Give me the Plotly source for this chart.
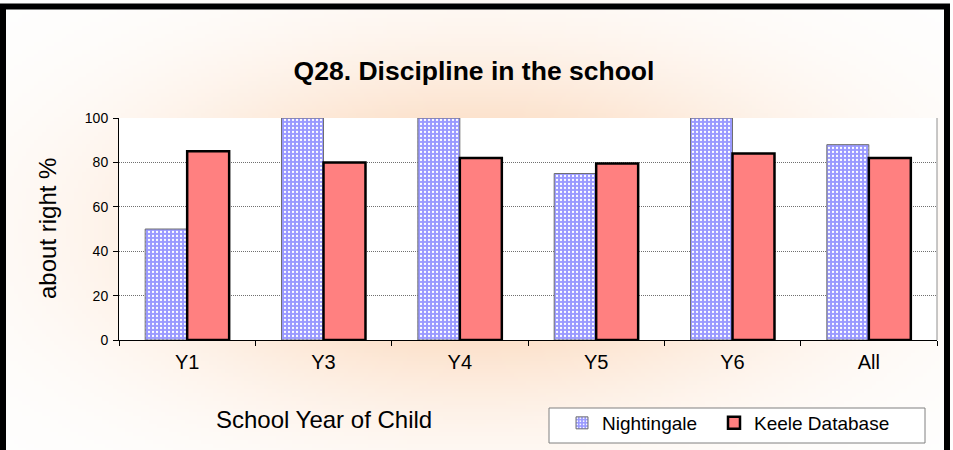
import base64, struct, zlib
import numpy as np
import plotly.graph_objects as go

# ---------------- data ----------------
categories = ["Y1", "Y3", "Y4", "Y5", "Y6", "All"]
nightingale = [50, 100, 100, 75, 100, 88]
keele = [85, 80, 82, 79.5, 84, 82]
y_ticks = [0, 20, 40, 60, 80, 100]

W, H = 953, 450
ML, MR, MT, MB = 119, 16, 118, 110
PW, PH = W - ML - MR, H - MT - MB


def px2x(px):
    return (px - ML) / PW


def px2y(py):
    return (H - MB - py) / PH


# ---------------- radial glow background (PNG data URI) ----------------
def glow_uri(gw=240, gh=114):
    xs = (np.arange(gw) + 0.5) * W / gw
    ys = (np.arange(gh) + 0.5) * H / gh
    X, Y = np.meshgrid(xs, ys)
    cx, cy, rx, ry = 476, 232, 470, 235
    r2 = ((X - cx) / rx) ** 2 + ((Y - cy) / ry) ** 2
    f = np.exp(-2.2 * r2)
    peach = np.array([251, 208, 172], dtype=float)
    img = 255 - f[..., None] * (255 - peach)[None, None, :]
    img = np.clip(img, 0, 255).astype(np.uint8)
    raw = b"".join(b"\x00" + img[i].tobytes() for i in range(gh))

    def chunk(t, d):
        c = struct.pack(">I", len(d)) + t + d
        return c + struct.pack(">I", zlib.crc32(t + d) & 0xFFFFFFFF)

    png = b"\x89PNG\r\n\x1a\n"
    png += chunk(b"IHDR", struct.pack(">IIBBBBB", gw, gh, 8, 2, 0, 0, 0))
    png += chunk(b"IDAT", zlib.compress(raw, 9))
    png += chunk(b"IEND", b"")
    return "data:image/png;base64," + base64.b64encode(png).decode()


FONT = "Liberation Sans, Arial, sans-serif"

fig = go.Figure()
fig.add_trace(go.Bar(
    x=categories, y=nightingale, name="Nightingale",
    marker=dict(color="#9999FF",
                line=dict(color="#707070", width=1),
                pattern=dict(shape=".", fgcolor="white", bgcolor="#9999FF",
                             size=4, solidity=0.25, fillmode="replace")),
    legendwidth=107,
))
fig.add_trace(go.Bar(
    x=categories, y=keele, name="Keele Database",
    marker=dict(color="#FF8080", line=dict(color="black", width=2.5)),
    legendwidth=150,
))

fig.update_layout(
    width=W, height=H,
    margin=dict(l=ML, r=MR, t=MT, b=MB, autoexpand=False),
    paper_bgcolor="white", plot_bgcolor="white",
    barmode="group", bargap=0.384, bargroupgap=0,
    font=dict(family=FONT, color="black"),
    title=dict(text="Q28. Discipline in the school",
               font=dict(family=FONT, size=26.5, weight="bold", color="black"),
               x=474 / W, xanchor="center", xref="container",
               y=1 - 71 / H, yanchor="middle", yref="container"),
    showlegend=True,
    legend=dict(orientation="h", x=px2x(562), y=px2y(404),
                xanchor="left", yanchor="top",
                bgcolor="rgba(0,0,0,0)", borderwidth=0,
                font=dict(family=FONT, size=19, color="black"),
                traceorder="normal"),
    xaxis=dict(type="category", tickson="boundaries", ticks="outside",
               ticklen=5, tickcolor="black", showline=True, linecolor="black",
               linewidth=1, showgrid=False, ticklabelstandoff=4,
               tickfont=dict(family=FONT, size=20, color="black")),
    yaxis=dict(range=[0, 100], tickvals=y_ticks, ticks="outside", ticklen=5,
               tickcolor="black", showline=True, linecolor="black", linewidth=1,
               showgrid=True, gridcolor="#707070", griddash="1px,1px",
               gridwidth=1, zeroline=False, ticklabelstandoff=2,
               tickfont=dict(family=FONT, size=14, color="black")),
    images=[dict(source=glow_uri(), xref="paper", yref="paper",
                 x=px2x(0), y=px2y(0), sizex=W / PW, sizey=H / PH,
                 xanchor="left", yanchor="top", sizing="stretch",
                 layer="below")],
    shapes=[
        # white plotting area above the glow
        dict(type="rect", xref="x domain", yref="y domain", x0=0, x1=1,
             y0=0, y1=1, fillcolor="white", line=dict(width=0), layer="below"),
        # legend box
        dict(type="rect", xref="paper", yref="paper",
             x0=px2x(549), x1=px2x(925), y0=px2y(443), y1=px2y(408),
             fillcolor="white", line=dict(color="#808080", width=1),
             layer="below"),
        # right edge of plot area
        dict(type="line", xref="x domain", yref="y domain", x0=1, x1=1,
             y0=0, y1=1, line=dict(color="#909090", width=1), layer="above"),
        # outer chart border
        dict(type="rect", xref="paper", yref="paper",
             x0=px2x(3), x1=px2x(947), y0=px2y(470), y1=px2y(6.5),
             line=dict(color="black", width=6), fillcolor="rgba(0,0,0,0)",
             layer="above"),
    ],
    annotations=[
        dict(text="about right %", xref="paper", yref="paper",
             x=px2x(47), y=0.5, xanchor="center", yanchor="middle",
             textangle=-90, showarrow=False,
             font=dict(family=FONT, size=24, color="black")),
        dict(text="School Year of Child", xref="paper", yref="paper",
             x=px2x(324), y=px2y(419), xanchor="center", yanchor="middle",
             showarrow=False, font=dict(family=FONT, size=24, color="black")),
    ],
)

fig.write_html("out.html",
               config={"displayModeBar": False},
               post_script="document.body.style.margin='0';"
                           "document.body.style.padding='0';")
